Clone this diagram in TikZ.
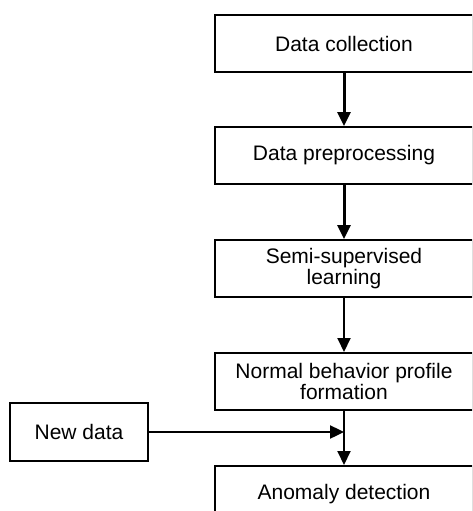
\documentclass[tikz,border=0pt]{standalone}
\usepackage{fontspec}
\setmainfont{Liberation Sans}
\usetikzlibrary{positioning, arrows.meta}

\begin{document}
\begin{tikzpicture}[x=1pt, y=-1pt,
	box/.style={draw, line width=2pt, minimum width=258pt, minimum height=57pt, inner sep=0pt, align=center, font=\fontsize{21}{21}\selectfont},
	flow/.style={line width=2pt, -{Triangle[length=14pt, width=13pt]}}]
	\useasboundingbox (0,0) rectangle (472,511);
	\clip (0,0) rectangle (472,511);
	\node[box] (collect) at (344,43.5) {Data collection};
	\node[box, below=53pt of collect] (prep) {Data preprocessing};
	\node[box, below=54pt of prep] (semi) {Semi-supervised\\learning};
	\node[box, below=54pt of semi] (profile) {Normal behavior profile\\formation};
	\node[box, below=54pt of profile] (detect) {Anomaly detection};
	\node[box, minimum width=138pt, minimum height=58pt] (newdata) at (79,432) {New data};
	\draw[flow, line width=3pt] (collect) -- (prep);
	\draw[flow, line width=3pt] (prep) -- (semi);
	\draw[flow] (semi) -- (profile);
	\draw[flow] (profile) -- (detect);
	\draw[flow, line width=2.4pt] (newdata) -- (newdata -| profile.south);
\end{tikzpicture}
\end{document}
